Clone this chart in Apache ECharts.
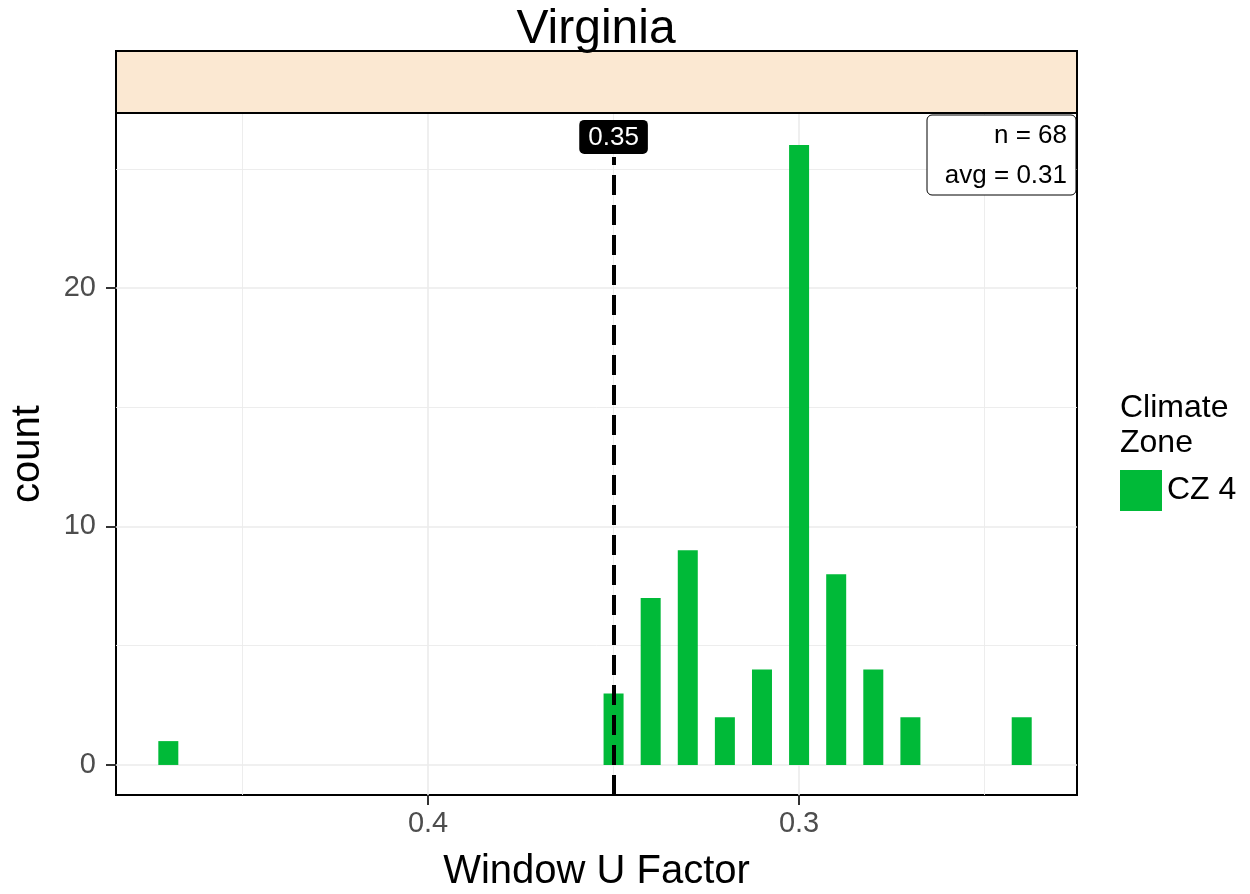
<!DOCTYPE html>
<html><head><meta charset="utf-8">
<script src="https://cdn.jsdelivr.net/npm/echarts@6/dist/echarts.min.js"></script>
<style>html,body{margin:0;padding:0;background:#fff}#c{width:1250px;height:894px}</style>
</head><body><div id="c"></div>
<script>
// Data
const uFactors = [0.47, 0.35, 0.34, 0.33, 0.32, 0.31, 0.30, 0.29, 0.28, 0.27, 0.24];
const counts   = [1, 3, 7, 9, 2, 4, 26, 8, 4, 2, 2];
const xTickValues = [0.4, 0.3];
const xMinorGrid = [0.45, 0.35, 0.25];
const yTickValues = [0, 10, 20];
const yMinorGrid = [5, 15, 25];
const requirement = 0.35;
const stripTitle = 'Virginia';
const seriesName = 'CZ 4';
const legendTitle = 'Climate\nZone';
const annoLines = ['n = 68', 'avg = 0.31'];

const FONT = '"Liberation Sans", Arial, sans-serif';
const xMin = 0.2251, xMax = 0.4841, yMin = -1.26, yMax = 27.34;
const G = {left:116, right:173, top:113, bottom:99};

const chart = echarts.init(document.getElementById('c'), null, {renderer:'canvas'});
const gridLines = [];
xTickValues.forEach(v => gridLines.push({xAxis:v, lineStyle:{width:1.6}}));
xMinorGrid.forEach(v => gridLines.push({xAxis:v, lineStyle:{width:0.9}}));
yTickValues.forEach(v => gridLines.push({yAxis:v, lineStyle:{width:1.6}}));
yMinorGrid.forEach(v => gridLines.push({yAxis:v, lineStyle:{width:0.9}}));

chart.setOption({
  animation:false,
  textStyle:{fontFamily:FONT},
  grid:{left:G.left, right:G.right, top:G.top, bottom:G.bottom, show:true, borderColor:'#000', borderWidth:2, backgroundColor:'#fff', containLabel:false, outerBoundsMode:'none'},
  xAxis:{
    type:'value', inverse:true, min:xMin, max:xMax,
    name:'Window U Factor', nameLocation:'middle', nameGap:57,
    nameTextStyle:{fontSize:40, color:'#000', fontFamily:FONT},
    axisLine:{show:true, onZero:false, lineStyle:{color:'#000', width:2}},
    axisTick:{show:true, length:10, lineStyle:{color:'#333', width:2}, customValues:xTickValues},
    axisLabel:{fontSize:29, color:'#4D4D4D', margin:14, customValues:xTickValues, formatter:v=>String(+v.toFixed(2)), fontFamily:FONT},
    splitLine:{show:false}
  },
  yAxis:{
    type:'value', min:yMin, max:yMax,
    name:'count', nameLocation:'middle', nameGap:68, nameRotate:90,
    nameTextStyle:{fontSize:40, color:'#000', fontFamily:FONT},
    axisLine:{show:true, onZero:false, lineStyle:{color:'#000', width:2}},
    axisTick:{show:true, length:10, lineStyle:{color:'#333', width:2}, customValues:yTickValues},
    axisLabel:{fontSize:29, color:'#4D4D4D', margin:20, customValues:yTickValues, fontFamily:FONT},
    splitLine:{show:false}
  },
  legend:{
    left:1115, top:465, orient:'vertical', itemWidth:42, itemHeight:41, itemGap:6, icon:'rect',
    textStyle:{fontSize:32, color:'#000', fontFamily:FONT},
    data:[seriesName]
  },
  graphic:[
    {type:'rect', shape:{x:116, y:51, width:961, height:62}, style:{fill:'#FBE8D2', stroke:'#000', lineWidth:2}, z:10},
    {type:'text', x:596, y:30, style:{text:stripTitle, font:'48px '+FONT, fill:'#000', textAlign:'center', textVerticalAlign:'middle'}, z:11},
    {type:'text', left:1120, top:391, style:{text:legendTitle, font:'32px '+FONT, fill:'#000', lineHeight:35}, z:11},
    {type:'rect', shape:{x:927, y:115, width:149, height:80, r:5}, style:{fill:'#fff', stroke:'#000', lineWidth:1}, z:20},
    {type:'text', x:1067, y:136, style:{text:annoLines[0], font:'26px '+FONT, fill:'#000', textAlign:'right', textVerticalAlign:'middle'}, z:21},
    {type:'text', x:1067, y:176, style:{text:annoLines[1], font:'26px '+FONT, fill:'#000', textAlign:'right', textVerticalAlign:'middle'}, z:21}
  ],
  series:[
    {type:'line', data:[], silent:true, z:1,
     markLine:{silent:true, z:1, symbol:'none', label:{show:false}, lineStyle:{color:'#EBEBEB', type:'solid'}, data:gridLines}},
    {type:'bar', name:seriesName, data:uFactors.map((u,i)=>[u,counts[i]]), barWidth:20, itemStyle:{color:'#00BA38'}, z:3},
    {type:'line', data:[], silent:true, z:6,
     markLine:{silent:true, z:6, symbol:'none',
       lineStyle:{color:'#000', type:[20,10], width:4},
       label:{show:true, position:'end', formatter:String(requirement), color:'#fff', backgroundColor:'#000', borderRadius:5, padding:[5,9,3,9], fontSize:26, fontFamily:FONT, distance:3},
       data:[[{coord:[requirement, yMin]}, {coord:[requirement, 25.5]}]]}}
  ]
});
</script></body></html>
